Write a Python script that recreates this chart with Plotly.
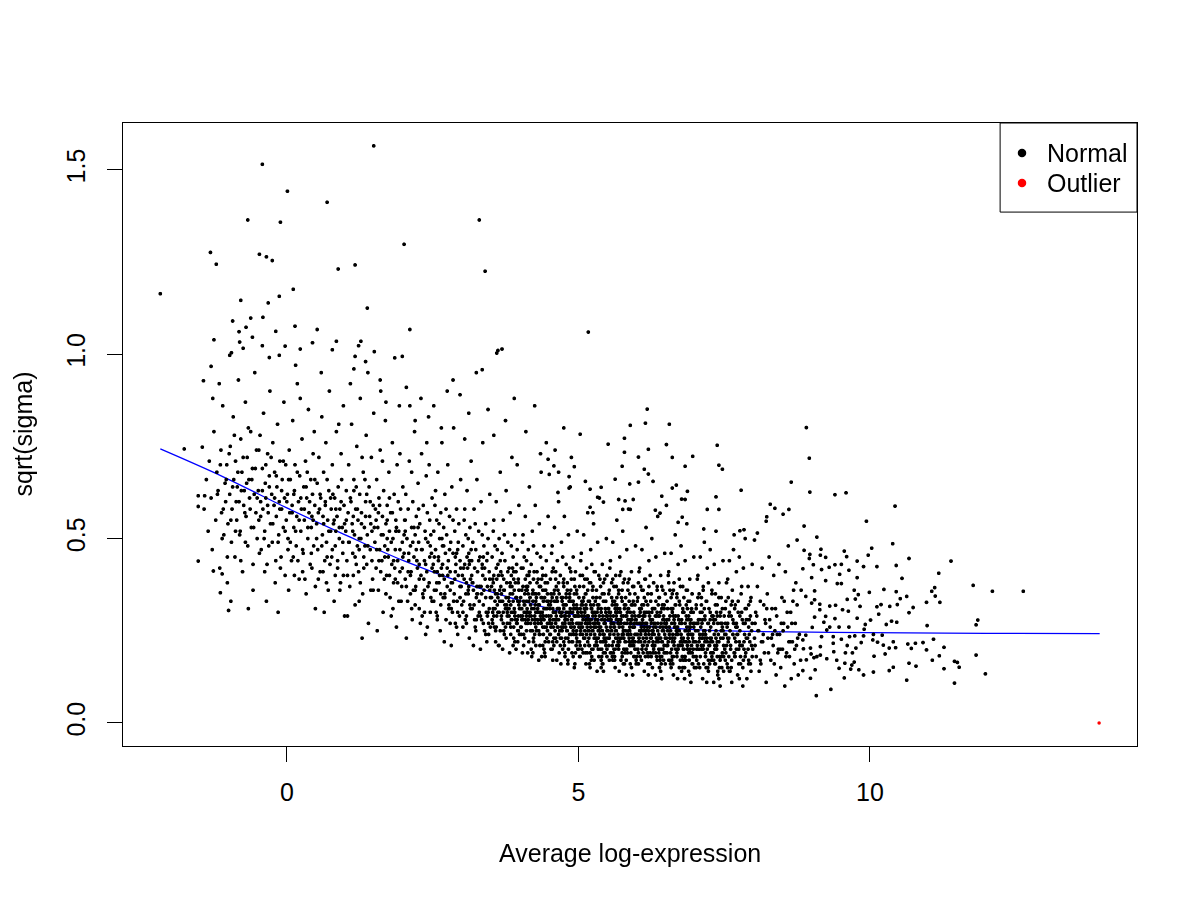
import plotly.graph_objects as go

# sparse points above the cloud, upper left
upper_left = [(1.49, 1.565), (-0.42, 1.515), (0.01, 1.442), (0.69, 1.412), (-0.67, 1.364), (-0.11, 1.358),
    (3.30, 1.364), (2.01, 1.298), (-1.31, 1.276), (-1.21, 1.244), (-0.47, 1.271), (-0.35, 1.264),
    (-0.25, 1.254), (0.88, 1.231), (1.17, 1.242), (3.40, 1.225), (-2.17, 1.164), (0.11, 1.176),
    (-0.13, 1.157), (-0.79, 1.146), (-0.32, 1.139), (1.38, 1.125), (-0.93, 1.090), (-0.62, 1.098),
    (-0.41, 1.100), (-0.70, 1.073), (0.14, 1.076), (0.52, 1.067), (2.11, 1.067), (-0.82, 1.061),
    (-0.19, 1.062), (-0.59, 1.046), (-1.25, 1.039), (-0.81, 1.033), (-0.42, 1.023), (-0.03, 1.022),
    (0.44, 1.031), (0.85, 1.035), (1.27, 1.035), (-0.75, 1.016), (0.23, 1.014), (0.78, 1.012),
    (1.23, 1.023), (1.50, 1.007), (1.98, 0.994), (3.60, 1.003), (3.69, 1.014), (3.35, 0.958),
    (-0.95, 1.004), (-0.98, 0.997), (-0.13, 0.997), (-0.30, 0.991), (1.17, 0.994), (-1.30, 0.967)]

# sparse points above the cloud, middle
upper_mid = [(5.17, 1.060), (6.18, 0.851), (5.89, 0.807), (6.15, 0.813), (6.56, 0.810), (5.03, 0.783),
    (5.79, 0.772), (5.51, 0.756), (6.51, 0.755), (7.38, 0.753), (8.91, 0.801), (6.20, 0.742),
    (5.79, 0.734), (6.03, 0.721), (6.61, 0.720), (6.96, 0.723), (8.96, 0.718), (7.41, 0.699),
    (7.47, 0.688), (6.83, 0.696), (5.75, 0.696), (6.13, 0.688), (6.20, 0.675), (5.63, 0.661),
    (6.28, 0.655), (5.88, 0.648), (6.03, 0.653), (8.65, 0.653), (7.79, 0.631), (8.97, 0.626),
    (9.40, 0.619), (9.59, 0.624), (10.43, 0.588), (9.94, 0.547), (8.29, 0.593), (8.37, 0.582),
    (8.51, 0.566), (8.61, 0.579), (8.23, 0.559), (8.22, 0.547), (8.87, 0.534), (8.07, 0.515),
    (9.09, 0.504), (8.75, 0.496), (10.39, 0.486), (10.03, 0.474), (7.36, 0.613), (7.21, 0.579),
    (7.41, 0.579), (6.43, 0.615), (6.51, 0.590), (6.77, 0.607), (6.83, 0.606), (6.87, 0.628),
    (6.61, 0.637), (6.68, 0.645), (5.39, 0.639), (5.20, 0.634), (5.12, 0.655), (4.93, 0.695),
    (4.84, 0.668), (4.48, 0.715), (4.58, 0.697), (4.66, 0.680), (4.50, 0.674), (4.84, 0.637),
    (4.65, 0.625), (5.33, 0.612), (5.43, 0.599), (5.69, 0.606), (5.80, 0.602), (5.94, 0.606),
    (5.76, 0.579), (5.89, 0.579), (5.20, 0.585), (5.25, 0.570), (6.32, 0.577), (6.40, 0.569),
    (6.78, 0.558), (6.71, 0.544), (7.15, 0.526), (7.67, 0.510), (7.77, 0.521), (7.84, 0.524),
    (8.02, 0.496),
    (1.60, 0.93), (1.85, 0.99), (2.05, 0.91), (2.30, 0.88), (2.52, 0.86), (2.75, 0.90), (2.85, 0.93),
    (2.97, 0.89), (3.12, 0.84), (3.25, 0.95), (3.45, 0.85), (3.62, 1.01), (3.75, 0.82), (3.90, 0.88),
    (4.10, 0.79), (4.25, 0.86), (4.45, 0.76), (4.60, 0.74), (4.75, 0.80), (4.88, 0.72), (1.35, 0.98),
    (1.15, 0.96), (2.20, 0.82), (2.65, 0.80), (3.55, 0.78), (4.35, 0.73), (3.05, 0.77), (3.95, 0.70),
    (1.70, 0.87), (2.40, 0.76)]

# left edge of the cloud
left_edge = [(-1.43, 0.928), (-1.76, 0.743), (-1.45, 0.748), (-1.52, 0.616), (-1.41, 0.616),
    (-1.52, 0.587), (-1.52, 0.439), (-1.26, 0.412), (-1.11, 0.404), (-1.14, 0.353), (-1.00, 0.305)]

# right tail, x > 8.8
right_tail = [(9.16, 0.471), (9.56, 0.466), (8.87, 0.468), (8.97, 0.457), (9.15, 0.455), (9.24, 0.449),
    (9.60, 0.451), (9.97, 0.455), (9.78, 0.439), (8.96, 0.446), (10.67, 0.446), (11.39, 0.439),
    (9.03, 0.429), (9.40, 0.429), (9.51, 0.430), (9.30, 0.422), (9.89, 0.424), (10.12, 0.424),
    (10.45, 0.427), (8.85, 0.418), (9.17, 0.416), (9.64, 0.414), (11.18, 0.406), (9.00, 0.394),
    (9.24, 0.386), (9.48, 0.403), (9.78, 0.394), (10.55, 0.392), (9.44, 0.378), (9.51, 0.378),
    (11.77, 0.373), (12.10, 0.357), (12.63, 0.357), (11.11, 0.367), (11.06, 0.357), (11.12, 0.344),
    (10.97, 0.327), (11.20, 0.327), (8.82, 0.360), (9.05, 0.358), (9.73, 0.360), (10.24, 0.362),
    (10.45, 0.356), (9.99, 0.354), (9.80, 0.348), (10.63, 0.343), (10.52, 0.337), (9.75, 0.336),
    (9.61, 0.335), (8.90, 0.343), (9.05, 0.334), (10.74, 0.313), (10.67, 0.299), (10.47, 0.321),
    (10.34, 0.316), (10.12, 0.315), (10.19, 0.321), (9.83, 0.316), (9.63, 0.303), (9.53, 0.307),
    (9.41, 0.319), (9.31, 0.317), (9.14, 0.322), (9.00, 0.325), (9.14, 0.307), (11.85, 0.279),
    (11.82, 0.266), (10.98, 0.264), (10.37, 0.276), (10.46, 0.273), (10.28, 0.267), (10.15, 0.295),
    (10.01, 0.279), (9.92, 0.267), (9.78, 0.284), (9.64, 0.260), (9.47, 0.260), (9.24, 0.289),
    (9.05, 0.287), (9.21, 0.273), (9.01, 0.259), (9.31, 0.260), (9.40, 0.283),
    (11.09, 0.227), (11.27, 0.205), (10.97, 0.198), (11.19, 0.182), (11.07, 0.170), (10.79, 0.154),
    (10.67, 0.162), (10.63, 0.116), (11.45, 0.108), (11.45, 0.167), (11.50, 0.164), (11.53, 0.151),
    (11.27, 0.147), (11.82, 0.184), (11.98, 0.133), (10.78, 0.216), (10.91, 0.218), (10.65, 0.214),
    (10.71, 0.202), (10.40, 0.220), (10.44, 0.204), (10.33, 0.203), (10.23, 0.211), (10.07, 0.181),
    (10.26, 0.187), (10.13, 0.219), (10.05, 0.225), (9.85, 0.218), (9.74, 0.236), (9.89, 0.236),
    (10.06, 0.240), (10.21, 0.238), (9.90, 0.254), (9.65, 0.234), (9.61, 0.210), (9.76, 0.203),
    (9.70, 0.190), (9.58, 0.190), (9.38, 0.193), (9.37, 0.216), (9.15, 0.207), (9.15, 0.184),
    (8.98, 0.203), (8.99, 0.187), (8.86, 0.201), (8.91, 0.171), (9.04, 0.177), (9.09, 0.180),
    (9.26, 0.174), (9.43, 0.170), (9.57, 0.162), (9.69, 0.157), (9.73, 0.165), (9.47, 0.148),
    (9.67, 0.146), (9.81, 0.144), (10.06, 0.138), (9.89, 0.130), (10.33, 0.142), (10.40, 0.151),
    (9.56, 0.122), (9.33, 0.091), (9.08, 0.074), (9.06, 0.144), (8.98, 0.121), (8.85, 0.142),
    (8.85, 0.225), (8.90, 0.238), (9.17, 0.234), (9.37, 0.234), (9.51, 0.227), (9.26, 0.252)]

# main body of the cloud, x from -1.5 to 2.5
body_low = [(-1.42, 0.58), (-1.38, 0.66), (-1.35, 0.52), (-1.33, 0.71), (-1.30, 0.61), (-1.28, 0.47),
    (-1.25, 0.79), (-1.22, 0.55), (-1.20, 0.68), (-1.18, 0.63), (-1.15, 0.42), (-1.13, 0.74),
    (-1.12, 0.57), (-1.10, 0.86), (-1.08, 0.51), (-1.06, 0.65), (-1.05, 0.60), (-1.03, 0.70),
    (-1.02, 0.38), (-1.01, 0.54), (-1.27, 0.88), (-1.16, 0.92),
    (-0.98, 0.62), (-0.97, 0.75), (-0.95, 0.49), (-0.94, 0.58), (-0.92, 0.83), (-0.91, 0.66),
    (-0.89, 0.45), (-0.88, 0.71), (-0.86, 0.55), (-0.85, 0.64), (-0.83, 0.93), (-0.82, 0.60),
    (-0.80, 0.52), (-0.79, 0.77), (-0.77, 0.68), (-0.76, 0.41), (-0.74, 0.59), (-0.73, 0.63),
    (-0.71, 0.87), (-0.70, 0.56), (-0.68, 0.72), (-0.67, 0.48), (-0.65, 0.66), (-0.64, 0.61),
    (-0.62, 0.79), (-0.61, 0.53), (-0.59, 0.69), (-0.58, 0.36), (-0.56, 0.62), (-0.55, 0.95),
    (-0.53, 0.57), (-0.52, 0.74), (-0.51, 0.50), (-0.96, 0.33), (-0.66, 0.31),
    (-0.49, 0.63), (-0.48, 0.55), (-0.46, 0.78), (-0.45, 0.60), (-0.44, 0.47), (-0.42, 0.69),
    (-0.41, 0.58), (-0.40, 0.84), (-0.38, 0.52), (-0.37, 0.65), (-0.36, 0.61), (-0.34, 0.43),
    (-0.33, 0.73), (-0.32, 0.57), (-0.30, 0.67), (-0.29, 0.90), (-0.28, 0.54), (-0.26, 0.62),
    (-0.25, 0.49), (-0.24, 0.76), (-0.22, 0.59), (-0.21, 0.68), (-0.20, 0.38), (-0.18, 0.56),
    (-0.17, 0.64), (-0.16, 0.81), (-0.14, 0.51), (-0.13, 0.60), (-0.12, 0.71), (-0.10, 0.45),
    (-0.09, 0.58), (-0.08, 0.66), (-0.06, 0.53), (-0.05, 0.87), (-0.04, 0.61), (-0.03, 0.40),
    (-0.02, 0.70), (-0.01, 0.55), (-0.35, 0.33), (-0.15, 0.30),
    (0.01, 0.62), (0.02, 0.50), (0.04, 0.74), (0.05, 0.57), (0.06, 0.66), (0.08, 0.44), (0.09, 0.59),
    (0.10, 0.82), (0.12, 0.53), (0.13, 0.63), (0.14, 0.70), (0.16, 0.48), (0.17, 0.56), (0.18, 0.92),
    (0.20, 0.60), (0.21, 0.39), (0.22, 0.67), (0.24, 0.52), (0.25, 0.58), (0.26, 0.77), (0.28, 0.46),
    (0.29, 0.64), (0.30, 0.55), (0.32, 0.71), (0.33, 0.35), (0.34, 0.61), (0.36, 0.50), (0.37, 0.85),
    (0.38, 0.57), (0.40, 0.43), (0.41, 0.66), (0.42, 0.53), (0.44, 0.62), (0.45, 0.73), (0.46, 0.48),
    (0.48, 0.59), (0.49, 0.31), (0.03, 0.36), (0.15, 0.97), (0.27, 0.41), (0.35, 0.68), (0.43, 0.56),
    (0.11, 0.45), (0.23, 0.88), (0.47, 0.79),
    (0.51, 0.54), (0.52, 0.65), (0.53, 0.47), (0.55, 0.72), (0.56, 0.58), (0.57, 0.41), (0.58, 0.61),
    (0.60, 0.83), (0.61, 0.51), (0.62, 0.56), (0.63, 0.68), (0.65, 0.44), (0.66, 0.60), (0.67, 0.76),
    (0.68, 0.49), (0.70, 0.55), (0.71, 0.36), (0.72, 0.63), (0.73, 0.90), (0.75, 0.52), (0.76, 0.58),
    (0.77, 0.45), (0.78, 0.70), (0.80, 0.54), (0.81, 0.33), (0.82, 0.61), (0.83, 0.48), (0.85, 0.79),
    (0.86, 0.56), (0.87, 0.42), (0.88, 0.64), (0.90, 0.50), (0.91, 0.58), (0.92, 0.38), (0.93, 0.73),
    (0.95, 0.53), (0.96, 0.46), (0.97, 0.86), (0.98, 0.59), (0.99, 0.29), (0.54, 0.39), (0.59, 0.95),
    (0.64, 0.30), (0.69, 0.66), (0.74, 0.43), (0.79, 0.62), (0.84, 0.52), (0.89, 0.81), (0.94, 0.66),
    (0.97, 0.40),
    (1.01, 0.52), (1.02, 0.63), (1.03, 0.44), (1.05, 0.57), (1.06, 0.70), (1.07, 0.49), (1.08, 0.37),
    (1.10, 0.60), (1.11, 0.81), (1.12, 0.54), (1.13, 0.46), (1.15, 0.66), (1.16, 0.51), (1.17, 0.32),
    (1.18, 0.58), (1.20, 0.75), (1.21, 0.48), (1.22, 0.55), (1.23, 0.41), (1.25, 0.62), (1.26, 0.88),
    (1.27, 0.50), (1.28, 0.57), (1.30, 0.35), (1.31, 0.68), (1.32, 0.45), (1.33, 0.53), (1.35, 0.60),
    (1.36, 0.78), (1.37, 0.43), (1.38, 0.51), (1.40, 0.27), (1.41, 0.64), (1.42, 0.56), (1.43, 0.47),
    (1.45, 0.72), (1.46, 0.52), (1.47, 0.39), (1.48, 0.59), (1.49, 0.84), (1.04, 0.29), (1.09, 0.92),
    (1.14, 0.40), (1.19, 0.64), (1.24, 0.33), (1.29, 0.72), (1.34, 0.48), (1.39, 0.95), (1.44, 0.36),
    (1.14, 0.56), (1.24, 0.47), (1.34, 0.66), (1.44, 0.54), (1.19, 0.43), (1.29, 0.23),
    (1.51, 0.49), (1.52, 0.58), (1.53, 0.42), (1.54, 0.66), (1.56, 0.53), (1.57, 0.36), (1.58, 0.61),
    (1.59, 0.47), (1.60, 0.74), (1.62, 0.51), (1.63, 0.44), (1.64, 0.56), (1.65, 0.30), (1.66, 0.63),
    (1.68, 0.48), (1.69, 0.82), (1.70, 0.54), (1.71, 0.40), (1.72, 0.59), (1.74, 0.45), (1.75, 0.68),
    (1.76, 0.52), (1.77, 0.34), (1.78, 0.57), (1.80, 0.43), (1.81, 0.76), (1.82, 0.50), (1.83, 0.38),
    (1.84, 0.62), (1.86, 0.47), (1.87, 0.55), (1.88, 0.26), (1.89, 0.70), (1.90, 0.44), (1.92, 0.52),
    (1.93, 0.86), (1.94, 0.41), (1.95, 0.58), (1.96, 0.33), (1.98, 0.49), (1.99, 0.64), (1.55, 0.25),
    (1.61, 0.90), (1.67, 0.39), (1.73, 0.47), (1.79, 0.29), (1.85, 0.42), (1.91, 0.60), (1.97, 0.37),
    (1.58, 0.44), (1.64, 0.71), (1.70, 0.35), (1.76, 0.61), (1.82, 0.31), (1.88, 0.53), (1.94, 0.73),
    (1.53, 0.55), (1.72, 0.50), (1.86, 0.39), (1.99, 0.45),
    (2.01, 0.46), (2.02, 0.55), (2.03, 0.39), (2.04, 0.62), (2.06, 0.50), (2.07, 0.33), (2.08, 0.58),
    (2.09, 0.44), (2.10, 0.71), (2.12, 0.48), (2.13, 0.41), (2.14, 0.53), (2.15, 0.28), (2.16, 0.60),
    (2.18, 0.45), (2.19, 0.79), (2.20, 0.51), (2.21, 0.37), (2.22, 0.56), (2.24, 0.42), (2.25, 0.65),
    (2.26, 0.49), (2.27, 0.31), (2.28, 0.54), (2.30, 0.40), (2.31, 0.73), (2.32, 0.47), (2.33, 0.35),
    (2.34, 0.59), (2.36, 0.44), (2.37, 0.52), (2.38, 0.24), (2.39, 0.67), (2.40, 0.41), (2.42, 0.49),
    (2.43, 0.83), (2.44, 0.38), (2.45, 0.55), (2.46, 0.30), (2.48, 0.46), (2.49, 0.61), (2.05, 0.23),
    (2.11, 0.86), (2.17, 0.36), (2.23, 0.44), (2.29, 0.27), (2.35, 0.39), (2.41, 0.57), (2.47, 0.34),
    (2.08, 0.41), (2.14, 0.68), (2.20, 0.32), (2.26, 0.58), (2.32, 0.29), (2.38, 0.50), (2.44, 0.70),
    (2.03, 0.52), (2.22, 0.47), (2.36, 0.36), (2.49, 0.42), (2.12, 0.35), (2.27, 0.43), (2.41, 0.26),
    (2.18, 0.53), (2.46, 0.48)]

# denser part of the left lobe, x from -1.2 to 3.5
body_low_fill = [(-1.19, 0.62), (-1.14, 0.70), (-1.09, 0.58), (-1.04, 0.66), (-0.99, 0.73), (-0.96, 0.55),
    (-0.93, 0.64), (-0.90, 0.78), (-0.87, 0.60), (-0.84, 0.68), (-0.81, 0.51), (-0.78, 0.63),
    (-0.75, 0.72), (-0.72, 0.57), (-0.69, 0.65), (-0.66, 0.80), (-0.63, 0.58), (-0.60, 0.66),
    (-0.57, 0.53), (-0.54, 0.69), (-0.51, 0.61), (-0.48, 0.74), (-0.45, 0.56), (-0.42, 0.63),
    (-0.39, 0.50), (-0.36, 0.70), (-0.33, 0.59), (-0.30, 0.64), (-0.27, 0.72), (-0.24, 0.54),
    (-0.21, 0.61), (-0.18, 0.67), (-0.15, 0.49), (-0.12, 0.58), (-0.09, 0.63), (-0.06, 0.71),
    (-0.03, 0.52), (0.00, 0.60), (0.03, 0.66), (0.06, 0.49), (0.09, 0.57), (0.12, 0.62), (0.15, 0.52),
    (0.18, 0.68), (0.21, 0.55), (0.24, 0.61), (0.27, 0.47), (0.30, 0.58), (0.33, 0.64), (0.36, 0.53),
    (0.39, 0.60), (0.42, 0.46), (0.45, 0.55), (0.48, 0.66), (0.51, 0.50), (0.54, 0.57), (0.57, 0.62),
    (0.60, 0.48), (0.63, 0.54), (0.66, 0.59), (0.69, 0.45), (0.72, 0.52), (0.75, 0.61), (0.78, 0.47),
    (0.81, 0.55), (0.84, 0.58), (0.87, 0.44), (0.90, 0.53), (0.93, 0.60), (0.96, 0.49), (0.99, 0.54),
    (-1.11, 0.50), (-1.02, 0.45), (-0.88, 0.52), (-0.79, 0.44), (-0.71, 0.49), (-0.58, 0.43),
    (-0.47, 0.46), (-0.38, 0.41), (-0.31, 0.48), (-0.19, 0.44), (-0.11, 0.42), (0.02, 0.47),
    (0.13, 0.40), (0.19, 0.44), (0.31, 0.39), (0.43, 0.42), (0.49, 0.37), (0.62, 0.41), (0.68, 0.38),
    (0.83, 0.40), (0.91, 0.36),
    (1.02, 0.55), (1.06, 0.49), (1.09, 0.61), (1.13, 0.52), (1.17, 0.45), (1.21, 0.58), (1.24, 0.50),
    (1.28, 0.54), (1.32, 0.42), (1.35, 0.56), (1.39, 0.48), (1.43, 0.60), (1.46, 0.44), (1.50, 0.53),
    (1.54, 0.47), (1.57, 0.57), (1.61, 0.41), (1.65, 0.51), (1.68, 0.45), (1.72, 0.55), (1.76, 0.40),
    (1.79, 0.49), (1.83, 0.44), (1.87, 0.52), (1.90, 0.38), (1.94, 0.47), (1.98, 0.42), (2.01, 0.51),
    (2.05, 0.37), (2.09, 0.46), (2.12, 0.40), (2.16, 0.49), (2.20, 0.36), (2.23, 0.44), (2.27, 0.39),
    (2.31, 0.47), (2.34, 0.34), (2.38, 0.43), (2.42, 0.37), (2.45, 0.45), (2.49, 0.33), (2.53, 0.41),
    (2.56, 0.36), (2.60, 0.44), (2.64, 0.32), (2.67, 0.40), (2.71, 0.35), (2.75, 0.42), (2.78, 0.31),
    (2.82, 0.38), (2.86, 0.33), (2.89, 0.41), (2.93, 0.30), (2.97, 0.37), (3.00, 0.32), (3.04, 0.39),
    (3.08, 0.29), (3.11, 0.36), (3.15, 0.31), (3.19, 0.38), (3.22, 0.28), (3.26, 0.35), (3.30, 0.30),
    (3.33, 0.37), (3.37, 0.27), (3.41, 0.34), (3.44, 0.29), (3.48, 0.36),
    (1.04, 0.40), (1.15, 0.63), (1.26, 0.38), (1.37, 0.62), (1.48, 0.36), (1.59, 0.59), (1.70, 0.35),
    (1.81, 0.57), (1.92, 0.33), (2.03, 0.55), (2.14, 0.31), (2.25, 0.53), (2.36, 0.30), (2.47, 0.51),
    (2.58, 0.28), (2.69, 0.48), (2.80, 0.27), (2.91, 0.46), (3.02, 0.26), (3.13, 0.44), (3.24, 0.25),
    (3.35, 0.42), (3.46, 0.24)]

body_mid = [(2.51, 0.43), (2.52, 0.52), (2.53, 0.36), (2.54, 0.59), (2.55, 0.47), (2.56, 0.30), (2.57, 0.55),
    (2.58, 0.41), (2.59, 0.68), (2.60, 0.45), (2.61, 0.38), (2.62, 0.50), (2.63, 0.25), (2.64, 0.57),
    (2.65, 0.42), (2.66, 0.76), (2.67, 0.48), (2.68, 0.34), (2.69, 0.53), (2.70, 0.39), (2.71, 0.62),
    (2.72, 0.46), (2.73, 0.28), (2.74, 0.51), (2.75, 0.37), (2.76, 0.70), (2.77, 0.44), (2.78, 0.32),
    (2.79, 0.56), (2.80, 0.41), (2.81, 0.49), (2.82, 0.21), (2.83, 0.64), (2.84, 0.38), (2.85, 0.46),
    (2.86, 0.80), (2.87, 0.35), (2.88, 0.52), (2.89, 0.27), (2.90, 0.43), (2.91, 0.58), (2.92, 0.33),
    (2.93, 0.47), (2.94, 0.40), (2.95, 0.54), (2.96, 0.29), (2.97, 0.44), (2.98, 0.66), (2.99, 0.37),
    (2.52, 0.33), (2.55, 0.63), (2.58, 0.29), (2.61, 0.54), (2.64, 0.35), (2.67, 0.43), (2.70, 0.22),
    (2.73, 0.58), (2.76, 0.40), (2.79, 0.47), (2.82, 0.31), (2.85, 0.55), (2.88, 0.39), (2.91, 0.26),
    (2.94, 0.49), (2.97, 0.34), (2.53, 0.45), (2.62, 0.40), (2.71, 0.34), (2.80, 0.36), (2.89, 0.45),
    (2.98, 0.42), (2.66, 0.50), (2.84, 0.30), (2.57, 0.38), (2.93, 0.24),
    (3.01, 0.40), (3.02, 0.48), (3.03, 0.33), (3.04, 0.55), (3.05, 0.43), (3.06, 0.28), (3.07, 0.51),
    (3.08, 0.38), (3.09, 0.63), (3.10, 0.42), (3.11, 0.35), (3.12, 0.46), (3.13, 0.23), (3.14, 0.53),
    (3.15, 0.39), (3.16, 0.71), (3.17, 0.44), (3.18, 0.31), (3.19, 0.49), (3.20, 0.36), (3.21, 0.58),
    (3.22, 0.42), (3.23, 0.26), (3.24, 0.47), (3.25, 0.34), (3.26, 0.66), (3.27, 0.41), (3.28, 0.29),
    (3.29, 0.52), (3.30, 0.37), (3.31, 0.45), (3.32, 0.20), (3.33, 0.60), (3.34, 0.35), (3.35, 0.43),
    (3.36, 0.76), (3.37, 0.32), (3.38, 0.48), (3.39, 0.25), (3.40, 0.39), (3.41, 0.54), (3.42, 0.30),
    (3.43, 0.44), (3.44, 0.37), (3.45, 0.50), (3.46, 0.27), (3.47, 0.41), (3.48, 0.62), (3.49, 0.34),
    (3.02, 0.30), (3.05, 0.58), (3.08, 0.27), (3.11, 0.50), (3.14, 0.32), (3.17, 0.40), (3.20, 0.21),
    (3.23, 0.54), (3.26, 0.37), (3.29, 0.44), (3.32, 0.29), (3.35, 0.51), (3.38, 0.36), (3.41, 0.24),
    (3.44, 0.46), (3.47, 0.31), (3.03, 0.42), (3.12, 0.37), (3.21, 0.32), (3.30, 0.33), (3.39, 0.42),
    (3.48, 0.39), (3.16, 0.47), (3.34, 0.28), (3.07, 0.35), (3.43, 0.22), (3.09, 0.45), (3.18, 0.38),
    (3.27, 0.35), (3.36, 0.40), (3.45, 0.30), (3.13, 0.43), (3.25, 0.28), (3.37, 0.45), (3.49, 0.26),
    (3.51, 0.37), (3.52, 0.45), (3.53, 0.30), (3.54, 0.52), (3.55, 0.40), (3.56, 0.26), (3.57, 0.48),
    (3.58, 0.35), (3.59, 0.60), (3.60, 0.39), (3.61, 0.32), (3.62, 0.43), (3.63, 0.21), (3.64, 0.50),
    (3.65, 0.36), (3.66, 0.68), (3.67, 0.41), (3.68, 0.29), (3.69, 0.46), (3.70, 0.33), (3.71, 0.55),
    (3.72, 0.39), (3.73, 0.24), (3.74, 0.44), (3.75, 0.31), (3.76, 0.63), (3.77, 0.38), (3.78, 0.27),
    (3.79, 0.49), (3.80, 0.34), (3.81, 0.42), (3.82, 0.19), (3.83, 0.57), (3.84, 0.32), (3.85, 0.40),
    (3.86, 0.72), (3.87, 0.30), (3.88, 0.45), (3.89, 0.23), (3.90, 0.36), (3.91, 0.51), (3.92, 0.28),
    (3.93, 0.41), (3.94, 0.34), (3.95, 0.47), (3.96, 0.25), (3.97, 0.38), (3.98, 0.59), (3.99, 0.31),
    (3.52, 0.28), (3.55, 0.55), (3.58, 0.25), (3.61, 0.47), (3.64, 0.30), (3.67, 0.37), (3.70, 0.20),
    (3.73, 0.51), (3.76, 0.34), (3.79, 0.41), (3.82, 0.27), (3.85, 0.48), (3.88, 0.33), (3.91, 0.22),
    (3.94, 0.43), (3.97, 0.29), (3.53, 0.39), (3.62, 0.34), (3.71, 0.30), (3.80, 0.31), (3.89, 0.39),
    (3.98, 0.36), (3.66, 0.44), (3.84, 0.26), (3.57, 0.33), (3.93, 0.20), (3.59, 0.42), (3.68, 0.35),
    (3.77, 0.32), (3.86, 0.37), (3.95, 0.28), (3.63, 0.40), (3.75, 0.26), (3.87, 0.42), (3.99, 0.24),
    (3.54, 0.31), (3.60, 0.29), (3.65, 0.33), (3.72, 0.36), (3.78, 0.30), (3.83, 0.35), (3.90, 0.31),
    (3.96, 0.33), (3.56, 0.36), (3.81, 0.29),
    (4.01, 0.34), (4.02, 0.42), (4.03, 0.28), (4.04, 0.49), (4.05, 0.37), (4.06, 0.24), (4.07, 0.45),
    (4.08, 0.32), (4.09, 0.56), (4.10, 0.36), (4.11, 0.29), (4.12, 0.40), (4.13, 0.19), (4.14, 0.47),
    (4.15, 0.33), (4.16, 0.64), (4.17, 0.38), (4.18, 0.27), (4.19, 0.43), (4.20, 0.31), (4.21, 0.52),
    (4.22, 0.36), (4.23, 0.22), (4.24, 0.41), (4.25, 0.29), (4.26, 0.59), (4.27, 0.35), (4.28, 0.25),
    (4.29, 0.46), (4.30, 0.31), (4.31, 0.39), (4.32, 0.17), (4.33, 0.54), (4.34, 0.30), (4.35, 0.37),
    (4.36, 0.68), (4.37, 0.28), (4.38, 0.42), (4.39, 0.21), (4.40, 0.33), (4.41, 0.48), (4.42, 0.26),
    (4.43, 0.38), (4.44, 0.31), (4.45, 0.44), (4.46, 0.23), (4.47, 0.35), (4.48, 0.56), (4.49, 0.29),
    (4.02, 0.26), (4.05, 0.51), (4.08, 0.23), (4.11, 0.44), (4.14, 0.28), (4.17, 0.34), (4.20, 0.18),
    (4.23, 0.48), (4.26, 0.32), (4.29, 0.38), (4.32, 0.25), (4.35, 0.45), (4.38, 0.30), (4.41, 0.20),
    (4.44, 0.40), (4.47, 0.27), (4.03, 0.36), (4.12, 0.31), (4.21, 0.28), (4.30, 0.28), (4.39, 0.36),
    (4.48, 0.33), (4.16, 0.41), (4.34, 0.24), (4.07, 0.30), (4.43, 0.18), (4.09, 0.39), (4.18, 0.32),
    (4.27, 0.30), (4.36, 0.34), (4.45, 0.26), (4.13, 0.37), (4.25, 0.24), (4.37, 0.39), (4.49, 0.22),
    (4.04, 0.29), (4.10, 0.27), (4.15, 0.30), (4.22, 0.33), (4.28, 0.28), (4.33, 0.32), (4.40, 0.29),
    (4.46, 0.31), (4.06, 0.33), (4.31, 0.27), (4.19, 0.25), (4.24, 0.35), (4.42, 0.34), (4.47, 0.25),
    (4.01, 0.31), (4.14, 0.35), (4.27, 0.21), (4.40, 0.24), (4.11, 0.25), (4.35, 0.29)]

body_core = [(4.51, 0.31), (4.52, 0.39), (4.53, 0.26), (4.54, 0.46), (4.55, 0.34), (4.56, 0.22), (4.57, 0.42),
    (4.58, 0.30), (4.59, 0.53), (4.60, 0.33), (4.61, 0.27), (4.62, 0.37), (4.63, 0.17), (4.64, 0.44),
    (4.65, 0.31), (4.66, 0.60), (4.67, 0.35), (4.68, 0.25), (4.69, 0.40), (4.70, 0.29), (4.71, 0.49),
    (4.72, 0.33), (4.73, 0.20), (4.74, 0.38), (4.75, 0.27), (4.76, 0.56), (4.77, 0.32), (4.78, 0.23),
    (4.79, 0.43), (4.80, 0.28), (4.81, 0.36), (4.82, 0.16), (4.83, 0.51), (4.84, 0.27), (4.85, 0.34),
    (4.86, 0.64), (4.87, 0.26), (4.88, 0.39), (4.89, 0.19), (4.90, 0.30), (4.91, 0.45), (4.92, 0.24),
    (4.93, 0.35), (4.94, 0.29), (4.95, 0.41), (4.96, 0.21), (4.97, 0.32), (4.98, 0.52), (4.99, 0.27),
    (4.52, 0.24), (4.55, 0.48), (4.58, 0.21), (4.61, 0.41), (4.64, 0.26), (4.67, 0.31), (4.70, 0.16),
    (4.73, 0.45), (4.76, 0.29), (4.79, 0.35), (4.82, 0.23), (4.85, 0.42), (4.88, 0.28), (4.91, 0.18),
    (4.94, 0.37), (4.97, 0.25), (4.53, 0.33), (4.62, 0.29), (4.71, 0.26), (4.80, 0.25), (4.89, 0.33),
    (4.98, 0.31), (4.66, 0.38), (4.84, 0.22), (4.57, 0.28), (4.93, 0.15), (4.59, 0.36), (4.68, 0.30),
    (4.77, 0.28), (4.86, 0.31), (4.95, 0.24), (4.63, 0.34), (4.75, 0.22), (4.87, 0.36), (4.99, 0.20),
    (4.54, 0.27), (4.60, 0.25), (4.65, 0.28), (4.72, 0.30), (4.78, 0.26), (4.83, 0.30), (4.90, 0.27),
    (4.96, 0.29), (4.56, 0.31), (4.81, 0.25), (4.69, 0.23), (4.74, 0.32), (4.92, 0.31), (4.97, 0.23),
    (4.51, 0.28), (4.64, 0.33), (4.77, 0.19), (4.90, 0.22), (4.61, 0.23), (4.85, 0.27), (4.53, 0.20),
    (4.66, 0.24), (4.79, 0.30), (4.93, 0.26), (4.58, 0.35), (4.71, 0.34), (4.84, 0.33), (4.97, 0.35),
    (4.75, 0.39), (4.88, 0.24),
    (5.01, 0.29), (5.02, 0.37), (5.03, 0.24), (5.04, 0.44), (5.05, 0.32), (5.06, 0.20), (5.07, 0.40),
    (5.08, 0.28), (5.09, 0.51), (5.10, 0.31), (5.11, 0.25), (5.12, 0.35), (5.13, 0.16), (5.14, 0.42),
    (5.15, 0.29), (5.16, 0.57), (5.17, 0.33), (5.18, 0.23), (5.19, 0.38), (5.20, 0.27), (5.21, 0.47),
    (5.22, 0.31), (5.23, 0.18), (5.24, 0.36), (5.25, 0.25), (5.26, 0.54), (5.27, 0.30), (5.28, 0.21),
    (5.29, 0.41), (5.30, 0.26), (5.31, 0.34), (5.32, 0.14), (5.33, 0.49), (5.34, 0.25), (5.35, 0.32),
    (5.36, 0.61), (5.37, 0.24), (5.38, 0.37), (5.39, 0.17), (5.40, 0.28), (5.41, 0.43), (5.42, 0.22),
    (5.43, 0.33), (5.44, 0.27), (5.45, 0.39), (5.46, 0.19), (5.47, 0.30), (5.48, 0.50), (5.49, 0.25),
    (5.02, 0.22), (5.05, 0.46), (5.08, 0.19), (5.11, 0.39), (5.14, 0.24), (5.17, 0.29), (5.20, 0.15),
    (5.23, 0.43), (5.26, 0.27), (5.29, 0.33), (5.32, 0.21), (5.35, 0.40), (5.38, 0.26), (5.41, 0.16),
    (5.44, 0.35), (5.47, 0.23), (5.03, 0.31), (5.12, 0.27), (5.21, 0.24), (5.30, 0.23), (5.39, 0.31),
    (5.48, 0.29), (5.16, 0.36), (5.34, 0.20), (5.07, 0.26), (5.43, 0.14), (5.09, 0.34), (5.18, 0.28),
    (5.27, 0.26), (5.36, 0.29), (5.45, 0.22), (5.13, 0.32), (5.25, 0.20), (5.37, 0.34), (5.49, 0.18),
    (5.04, 0.25), (5.10, 0.23), (5.15, 0.26), (5.22, 0.28), (5.28, 0.24), (5.33, 0.28), (5.40, 0.25),
    (5.46, 0.27), (5.06, 0.29), (5.31, 0.23), (5.19, 0.21), (5.24, 0.30), (5.42, 0.29), (5.47, 0.21),
    (5.01, 0.26), (5.14, 0.31), (5.27, 0.17), (5.40, 0.20), (5.11, 0.21), (5.35, 0.25), (5.03, 0.18),
    (5.16, 0.22), (5.29, 0.28), (5.43, 0.24), (5.08, 0.33), (5.21, 0.32), (5.34, 0.31), (5.47, 0.33),
    (5.25, 0.37), (5.38, 0.22), (5.05, 0.27), (5.18, 0.25), (5.31, 0.30), (5.44, 0.23), (5.12, 0.19),
    (5.36, 0.26),
    (5.51, 0.28), (5.52, 0.35), (5.53, 0.23), (5.54, 0.42), (5.55, 0.30), (5.56, 0.19), (5.57, 0.38),
    (5.58, 0.27), (5.59, 0.49), (5.60, 0.29), (5.61, 0.24), (5.62, 0.33), (5.63, 0.15), (5.64, 0.40),
    (5.65, 0.28), (5.66, 0.55), (5.67, 0.31), (5.68, 0.22), (5.69, 0.36), (5.70, 0.26), (5.71, 0.45),
    (5.72, 0.30), (5.73, 0.17), (5.74, 0.34), (5.75, 0.24), (5.76, 0.52), (5.77, 0.29), (5.78, 0.20),
    (5.79, 0.39), (5.80, 0.25), (5.81, 0.32), (5.82, 0.13), (5.83, 0.47), (5.84, 0.24), (5.85, 0.31),
    (5.86, 0.58), (5.87, 0.23), (5.88, 0.35), (5.89, 0.16), (5.90, 0.27), (5.91, 0.41), (5.92, 0.21),
    (5.93, 0.32), (5.94, 0.26), (5.95, 0.37), (5.96, 0.18), (5.97, 0.29), (5.98, 0.48), (5.99, 0.24),
    (5.52, 0.21), (5.55, 0.44), (5.58, 0.18), (5.61, 0.37), (5.64, 0.23), (5.67, 0.28), (5.70, 0.14),
    (5.73, 0.41), (5.76, 0.26), (5.79, 0.32), (5.82, 0.20), (5.85, 0.38), (5.88, 0.25), (5.91, 0.15),
    (5.94, 0.33), (5.97, 0.22), (5.53, 0.30), (5.62, 0.26), (5.71, 0.23), (5.80, 0.22), (5.89, 0.30),
    (5.98, 0.28), (5.66, 0.34), (5.84, 0.19), (5.57, 0.25), (5.93, 0.13), (5.59, 0.33), (5.68, 0.27),
    (5.77, 0.25), (5.86, 0.28), (5.95, 0.21), (5.63, 0.31), (5.75, 0.19), (5.87, 0.33), (5.99, 0.17),
    (5.54, 0.24), (5.60, 0.22), (5.65, 0.25), (5.72, 0.27), (5.78, 0.23), (5.83, 0.27), (5.90, 0.24),
    (5.96, 0.26), (5.56, 0.28), (5.81, 0.22), (5.69, 0.20), (5.74, 0.29), (5.92, 0.28), (5.97, 0.20),
    (5.51, 0.25), (5.64, 0.30), (5.77, 0.16), (5.90, 0.19), (5.61, 0.20), (5.85, 0.24), (5.53, 0.17),
    (5.66, 0.21), (5.79, 0.27), (5.93, 0.23), (5.58, 0.32), (5.71, 0.31), (5.84, 0.30), (5.97, 0.32),
    (5.75, 0.36), (5.88, 0.21), (5.55, 0.26), (5.68, 0.24), (5.81, 0.29), (5.94, 0.22), (5.62, 0.18),
    (5.86, 0.25)]

# extra points where the reference cloud is solid black, x from 3.5 to 8.8
core_fill = [(3.53, 0.27), (3.57, 0.31), (3.51, 0.34), (3.58, 0.22), (3.55, 0.29), (3.54, 0.38), (3.59, 0.26),
    (3.62, 0.30), (3.66, 0.25), (3.61, 0.35), (3.68, 0.28), (3.64, 0.21), (3.67, 0.33), (3.69, 0.40),
    (3.71, 0.27), (3.74, 0.32), (3.76, 0.23), (3.73, 0.36), (3.78, 0.29), (3.72, 0.25), (3.79, 0.31),
    (3.81, 0.33), (3.84, 0.24), (3.86, 0.28), (3.83, 0.37), (3.88, 0.21), (3.85, 0.30), (3.89, 0.26),
    (3.91, 0.29), (3.93, 0.34), (3.96, 0.22), (3.94, 0.27), (3.98, 0.32), (3.92, 0.38), (3.97, 0.25),
    (4.01, 0.26), (4.03, 0.31), (4.06, 0.21), (4.05, 0.28), (4.08, 0.35), (4.02, 0.24), (4.09, 0.30),
    (4.04, 0.19), (4.11, 0.33), (4.13, 0.27), (4.15, 0.22), (4.17, 0.30), (4.12, 0.36), (4.18, 0.25),
    (4.16, 0.29), (4.19, 0.20), (4.21, 0.25), (4.24, 0.31), (4.22, 0.19), (4.26, 0.28), (4.28, 0.34),
    (4.23, 0.23), (4.27, 0.26), (4.29, 0.30), (4.31, 0.32), (4.33, 0.24), (4.36, 0.27), (4.34, 0.21),
    (4.38, 0.29), (4.32, 0.35), (4.37, 0.18), (4.39, 0.26), (4.41, 0.28), (4.43, 0.22), (4.45, 0.31),
    (4.47, 0.25), (4.42, 0.19), (4.46, 0.33), (4.48, 0.27), (4.44, 0.36), (4.51, 0.24), (4.53, 0.29),
    (4.55, 0.20), (4.57, 0.26), (4.52, 0.32), (4.58, 0.23), (4.56, 0.17), (4.59, 0.28), (4.54, 0.35),
    (4.61, 0.30), (4.63, 0.22), (4.65, 0.26), (4.67, 0.19), (4.62, 0.33), (4.68, 0.25), (4.66, 0.28),
    (4.69, 0.21), (4.64, 0.31), (4.71, 0.23), (4.73, 0.27), (4.75, 0.31), (4.77, 0.18), (4.72, 0.25),
    (4.78, 0.29), (4.76, 0.21), (4.79, 0.34), (4.74, 0.26), (4.81, 0.28), (4.83, 0.20), (4.85, 0.24),
    (4.87, 0.30), (4.82, 0.17), (4.88, 0.26), (4.86, 0.33), (4.89, 0.22), (4.84, 0.29), (4.91, 0.25),
    (4.93, 0.29), (4.95, 0.19), (4.97, 0.27), (4.92, 0.32), (4.98, 0.22), (4.96, 0.24), (4.99, 0.30),
    (4.94, 0.16), (5.01, 0.27), (5.03, 0.21), (5.05, 0.30), (5.07, 0.24), (5.02, 0.18), (5.08, 0.28),
    (5.06, 0.33), (5.09, 0.23), (5.04, 0.26), (5.00, 0.20), (5.11, 0.23), (5.13, 0.28), (5.15, 0.19),
    (5.17, 0.25), (5.12, 0.31), (5.18, 0.21), (5.16, 0.27), (5.19, 0.16), (5.14, 0.24), (5.10, 0.29),
    (5.21, 0.26), (5.23, 0.20), (5.25, 0.29), (5.27, 0.23), (5.22, 0.17), (5.28, 0.27), (5.26, 0.32),
    (5.29, 0.21), (5.24, 0.25), (5.20, 0.19), (5.31, 0.22), (5.33, 0.27), (5.35, 0.18), (5.37, 0.24),
    (5.32, 0.30), (5.38, 0.20), (5.36, 0.26), (5.39, 0.15), (5.34, 0.23), (5.30, 0.28), (5.41, 0.25),
    (5.43, 0.19), (5.45, 0.28), (5.47, 0.22), (5.42, 0.16), (5.48, 0.26), (5.46, 0.31), (5.49, 0.20),
    (5.44, 0.24), (5.40, 0.18), (5.51, 0.23), (5.53, 0.28), (5.55, 0.19), (5.57, 0.25), (5.52, 0.31),
    (5.58, 0.21), (5.56, 0.27), (5.59, 0.17), (5.54, 0.24), (5.50, 0.29), (5.61, 0.26), (5.63, 0.20),
    (5.65, 0.29), (5.67, 0.23), (5.62, 0.17), (5.68, 0.27), (5.66, 0.32), (5.69, 0.21), (5.64, 0.25),
    (5.60, 0.19), (5.71, 0.22), (5.73, 0.27), (5.75, 0.18), (5.77, 0.24), (5.72, 0.30), (5.78, 0.20),
    (5.76, 0.26), (5.79, 0.16), (5.74, 0.23), (5.70, 0.28), (5.81, 0.25), (5.83, 0.20), (5.85, 0.28),
    (5.87, 0.22), (5.82, 0.17), (5.88, 0.26), (5.86, 0.31), (5.89, 0.21), (5.84, 0.24), (5.80, 0.19),
    (5.91, 0.22), (5.93, 0.26), (5.95, 0.18), (5.97, 0.24), (5.92, 0.29), (5.98, 0.20), (5.96, 0.27),
    (5.99, 0.16), (5.94, 0.23), (5.90, 0.28), (6.01, 0.24), (6.03, 0.19), (6.05, 0.27), (6.07, 0.22),
    (6.02, 0.16), (6.08, 0.25), (6.06, 0.30), (6.09, 0.20), (6.04, 0.23), (6.00, 0.18), (6.11, 0.21),
    (6.13, 0.26), (6.15, 0.18), (6.17, 0.23), (6.12, 0.29), (6.18, 0.19), (6.16, 0.25), (6.19, 0.16),
    (6.14, 0.22), (6.10, 0.27), (6.21, 0.24), (6.23, 0.19), (6.25, 0.27), (6.27, 0.21), (6.22, 0.16),
    (6.28, 0.25), (6.26, 0.30), (6.29, 0.20), (6.24, 0.23), (6.20, 0.18), (6.31, 0.21), (6.33, 0.26),
    (6.35, 0.17), (6.37, 0.23), (6.32, 0.29), (6.38, 0.19), (6.36, 0.25), (6.39, 0.15), (6.34, 0.22),
    (6.30, 0.27), (6.41, 0.23), (6.43, 0.18), (6.45, 0.26), (6.47, 0.21), (6.42, 0.16), (6.48, 0.24),
    (6.46, 0.29), (6.49, 0.19), (6.44, 0.22), (6.40, 0.17), (6.51, 0.21), (6.53, 0.25), (6.55, 0.17),
    (6.57, 0.23), (6.52, 0.28), (6.58, 0.19), (6.56, 0.24), (6.59, 0.15), (6.54, 0.22), (6.50, 0.26),
    (6.61, 0.23), (6.63, 0.18), (6.65, 0.26), (6.67, 0.20), (6.62, 0.16), (6.68, 0.24), (6.66, 0.29),
    (6.69, 0.19), (6.64, 0.22), (6.60, 0.17), (6.71, 0.20), (6.73, 0.25), (6.75, 0.17), (6.77, 0.22),
    (6.72, 0.28), (6.78, 0.18), (6.76, 0.24), (6.79, 0.15), (6.74, 0.21), (6.70, 0.26), (6.81, 0.22),
    (6.83, 0.18), (6.85, 0.25), (6.87, 0.20), (6.82, 0.15), (6.88, 0.24), (6.86, 0.28), (6.89, 0.19),
    (6.84, 0.22), (6.80, 0.17), (6.91, 0.20), (6.93, 0.24), (6.95, 0.16), (6.97, 0.22), (6.92, 0.27),
    (6.98, 0.18), (6.96, 0.23), (6.99, 0.15), (6.94, 0.21), (6.90, 0.26), (7.01, 0.22), (7.03, 0.17),
    (7.05, 0.25), (7.07, 0.20), (7.02, 0.15), (7.08, 0.23), (7.06, 0.28), (7.09, 0.18), (7.04, 0.21),
    (7.11, 0.20), (7.13, 0.24), (7.15, 0.16), (7.17, 0.22), (7.12, 0.27), (7.18, 0.18), (7.16, 0.23),
    (7.19, 0.15), (7.14, 0.21), (7.21, 0.22), (7.23, 0.17), (7.25, 0.25), (7.27, 0.19), (7.22, 0.15),
    (7.28, 0.23), (7.26, 0.28), (7.29, 0.18), (7.24, 0.21), (7.31, 0.19), (7.33, 0.24), (7.35, 0.16),
    (7.37, 0.21), (7.32, 0.27), (7.38, 0.18), (7.36, 0.23), (7.39, 0.14), (7.34, 0.20), (7.41, 0.22),
    (7.43, 0.17), (7.45, 0.25), (7.47, 0.19), (7.42, 0.15), (7.48, 0.23), (7.46, 0.27), (7.49, 0.18),
    (7.51, 0.20), (7.53, 0.24), (7.55, 0.16), (7.57, 0.22), (7.52, 0.27), (7.58, 0.18), (7.56, 0.23),
    (7.59, 0.14), (7.61, 0.21), (7.63, 0.17), (7.65, 0.24), (7.67, 0.19), (7.62, 0.15), (7.68, 0.23),
    (7.66, 0.27), (7.69, 0.18), (7.71, 0.20), (7.73, 0.24), (7.75, 0.16), (7.77, 0.21), (7.72, 0.26),
    (7.78, 0.18), (7.76, 0.22), (7.81, 0.21), (7.83, 0.17), (7.85, 0.24), (7.87, 0.19), (7.82, 0.15),
    (7.88, 0.23), (7.86, 0.27), (7.91, 0.20), (7.93, 0.24), (7.95, 0.16), (7.97, 0.21), (7.92, 0.26),
    (7.98, 0.18), (8.03, 0.21), (8.08, 0.25), (8.12, 0.17), (8.16, 0.22), (8.21, 0.27), (8.26, 0.19),
    (8.31, 0.23), (8.36, 0.16), (8.41, 0.24), (8.46, 0.20), (8.51, 0.25), (8.56, 0.18), (8.61, 0.22),
    (8.66, 0.27), (8.71, 0.20), (8.76, 0.23), (8.81, 0.17), (8.06, 0.29), (8.18, 0.32), (8.28, 0.28),
    (8.38, 0.31), (8.48, 0.27), (8.58, 0.30), (8.68, 0.33)]

# upper half of the solid core, above the trend line
core_upper = [(3.81, 0.31), (3.83, 0.38), (3.85, 0.28), (3.87, 0.35), (3.89, 0.41), (3.91, 0.30), (3.93, 0.34),
    (3.95, 0.27), (3.97, 0.39), (3.99, 0.33), (4.01, 0.29), (4.03, 0.36), (4.05, 0.42), (4.07, 0.32),
    (4.09, 0.28), (4.11, 0.37), (4.13, 0.30), (4.15, 0.40), (4.17, 0.34), (4.19, 0.29), (4.21, 0.35),
    (4.23, 0.39), (4.25, 0.27), (4.27, 0.33), (4.29, 0.41), (4.31, 0.30), (4.33, 0.37), (4.35, 0.28),
    (4.37, 0.34), (4.39, 0.40), (4.41, 0.31), (4.43, 0.36), (4.45, 0.29), (4.47, 0.38), (4.49, 0.32),
    (4.51, 0.27), (4.53, 0.35), (4.55, 0.41), (4.57, 0.30), (4.59, 0.33), (4.61, 0.39), (4.63, 0.28),
    (4.65, 0.36), (4.67, 0.31), (4.69, 0.40), (4.71, 0.29), (4.73, 0.34), (4.75, 0.37), (4.77, 0.27),
    (4.79, 0.32), (4.81, 0.38), (4.83, 0.30), (4.85, 0.35), (4.87, 0.41), (4.89, 0.28), (4.91, 0.33),
    (4.93, 0.39), (4.95, 0.31), (4.97, 0.36), (4.99, 0.29), (5.01, 0.34), (5.03, 0.40), (5.05, 0.27),
    (5.07, 0.32), (5.09, 0.37), (5.11, 0.30), (5.13, 0.35), (5.15, 0.39), (5.17, 0.28), (5.19, 0.33),
    (5.21, 0.38), (5.23, 0.31), (5.25, 0.34), (5.27, 0.41), (5.29, 0.29), (5.31, 0.36), (5.33, 0.32),
    (5.35, 0.27), (5.37, 0.39), (5.39, 0.30), (5.41, 0.35), (5.43, 0.38), (5.45, 0.28), (5.47, 0.33),
    (5.49, 0.40), (5.51, 0.31), (5.53, 0.36), (5.55, 0.29), (5.57, 0.34), (5.59, 0.39), (5.61, 0.27),
    (5.63, 0.32), (5.65, 0.37), (5.67, 0.30), (5.69, 0.35), (5.71, 0.40), (5.73, 0.28), (5.75, 0.33),
    (5.77, 0.38), (5.79, 0.31), (5.81, 0.34), (5.83, 0.29), (5.85, 0.36), (5.87, 0.39), (5.89, 0.27),
    (5.91, 0.32), (5.93, 0.37), (5.95, 0.30), (5.97, 0.35), (5.99, 0.28), (6.01, 0.33), (6.03, 0.38),
    (6.05, 0.31), (6.07, 0.27), (6.09, 0.36), (6.11, 0.29), (6.13, 0.34), (6.15, 0.39), (6.17, 0.30),
    (6.19, 0.32), (6.21, 0.37), (6.23, 0.28), (6.25, 0.35), (6.27, 0.31), (6.29, 0.38), (6.31, 0.27),
    (6.33, 0.33), (6.35, 0.36), (6.37, 0.29), (6.39, 0.34), (6.41, 0.30), (6.43, 0.37), (6.45, 0.28),
    (6.47, 0.32), (6.49, 0.35), (6.51, 0.27), (6.53, 0.31), (6.55, 0.38), (6.57, 0.29), (6.59, 0.34),
    (6.61, 0.30), (6.63, 0.36), (6.65, 0.27), (6.67, 0.32), (6.69, 0.35), (6.71, 0.29), (6.73, 0.33),
    (6.75, 0.37), (6.77, 0.28), (6.79, 0.31), (6.81, 0.34), (6.83, 0.27), (6.85, 0.32), (6.87, 0.36),
    (6.89, 0.29), (6.91, 0.33), (6.93, 0.28), (6.95, 0.35), (6.97, 0.30), (6.99, 0.27), (7.02, 0.31),
    (7.05, 0.34), (7.08, 0.28), (7.11, 0.32), (7.14, 0.36), (7.17, 0.29), (7.20, 0.33), (7.23, 0.27),
    (7.26, 0.30), (7.29, 0.35), (7.32, 0.28), (7.35, 0.32), (7.38, 0.29), (7.41, 0.34), (7.44, 0.27),
    (7.47, 0.31), (7.50, 0.29), (7.53, 0.33), (7.56, 0.27), (7.59, 0.30), (7.62, 0.32), (7.65, 0.28),
    (7.68, 0.31), (7.71, 0.27), (7.74, 0.33), (7.77, 0.29), (7.80, 0.30), (7.83, 0.27), (7.86, 0.31),
    (7.89, 0.28), (7.92, 0.32), (7.95, 0.29), (7.98, 0.27)]

body_high = [(6.01, 0.27), (6.02, 0.34), (6.03, 0.22), (6.04, 0.41), (6.05, 0.29), (6.06, 0.18), (6.07, 0.37),
    (6.08, 0.26), (6.09, 0.47), (6.10, 0.28), (6.11, 0.23), (6.12, 0.32), (6.13, 0.14), (6.14, 0.39),
    (6.15, 0.27), (6.16, 0.53), (6.17, 0.30), (6.18, 0.21), (6.19, 0.35), (6.20, 0.25), (6.21, 0.44),
    (6.22, 0.29), (6.23, 0.16), (6.24, 0.33), (6.25, 0.23), (6.26, 0.50), (6.27, 0.28), (6.28, 0.19),
    (6.29, 0.38), (6.30, 0.24), (6.31, 0.31), (6.32, 0.13), (6.33, 0.45), (6.34, 0.23), (6.35, 0.30),
    (6.36, 0.56), (6.37, 0.22), (6.38, 0.34), (6.39, 0.15), (6.40, 0.26), (6.41, 0.40), (6.42, 0.20),
    (6.43, 0.31), (6.44, 0.25), (6.45, 0.36), (6.46, 0.17), (6.47, 0.28), (6.48, 0.46), (6.49, 0.23),
    (6.02, 0.20), (6.05, 0.42), (6.08, 0.17), (6.11, 0.36), (6.14, 0.22), (6.17, 0.27), (6.20, 0.13),
    (6.23, 0.40), (6.26, 0.25), (6.29, 0.31), (6.32, 0.19), (6.35, 0.37), (6.38, 0.24), (6.41, 0.14),
    (6.44, 0.32), (6.47, 0.21), (6.03, 0.29), (6.12, 0.25), (6.21, 0.22), (6.30, 0.21), (6.39, 0.29),
    (6.48, 0.27), (6.16, 0.33), (6.34, 0.18), (6.07, 0.24), (6.43, 0.12), (6.09, 0.32), (6.18, 0.26),
    (6.27, 0.24), (6.36, 0.27), (6.45, 0.20), (6.13, 0.30), (6.25, 0.18), (6.37, 0.32), (6.49, 0.16),
    (6.04, 0.23), (6.10, 0.21), (6.15, 0.24), (6.22, 0.26), (6.28, 0.22), (6.33, 0.26), (6.40, 0.23),
    (6.46, 0.25), (6.06, 0.27), (6.31, 0.21), (6.19, 0.19), (6.24, 0.28), (6.42, 0.27), (6.47, 0.19),
    (6.01, 0.24), (6.14, 0.29), (6.27, 0.15), (6.40, 0.18), (6.11, 0.19), (6.35, 0.23), (6.03, 0.16),
    (6.16, 0.20), (6.29, 0.26), (6.43, 0.22), (6.08, 0.31), (6.21, 0.30), (6.34, 0.29), (6.47, 0.31),
    (6.25, 0.35), (6.38, 0.20), (6.05, 0.25),
    (6.51, 0.26), (6.52, 0.33), (6.53, 0.21), (6.54, 0.40), (6.55, 0.28), (6.56, 0.17), (6.57, 0.36),
    (6.58, 0.25), (6.59, 0.46), (6.60, 0.27), (6.61, 0.22), (6.62, 0.31), (6.63, 0.13), (6.64, 0.38),
    (6.65, 0.26), (6.66, 0.51), (6.67, 0.29), (6.68, 0.20), (6.69, 0.34), (6.70, 0.24), (6.71, 0.43),
    (6.72, 0.28), (6.73, 0.15), (6.74, 0.32), (6.75, 0.22), (6.76, 0.48), (6.77, 0.27), (6.78, 0.18),
    (6.79, 0.37), (6.80, 0.23), (6.81, 0.30), (6.82, 0.12), (6.83, 0.44), (6.84, 0.22), (6.85, 0.29),
    (6.86, 0.54), (6.87, 0.21), (6.88, 0.33), (6.89, 0.14), (6.90, 0.25), (6.91, 0.39), (6.92, 0.19),
    (6.93, 0.30), (6.94, 0.24), (6.95, 0.35), (6.96, 0.16), (6.97, 0.27), (6.98, 0.45), (6.99, 0.22),
    (6.52, 0.19), (6.55, 0.41), (6.58, 0.16), (6.61, 0.35), (6.64, 0.21), (6.67, 0.26), (6.70, 0.12),
    (6.73, 0.39), (6.76, 0.24), (6.79, 0.30), (6.82, 0.18), (6.85, 0.36), (6.88, 0.23), (6.91, 0.13),
    (6.94, 0.31), (6.97, 0.20), (6.53, 0.28), (6.62, 0.24), (6.71, 0.21), (6.80, 0.20), (6.89, 0.28),
    (6.98, 0.26), (6.66, 0.32), (6.84, 0.17), (6.57, 0.23), (6.93, 0.11), (6.59, 0.31), (6.68, 0.25),
    (6.77, 0.23), (6.86, 0.26), (6.95, 0.19), (6.63, 0.29), (6.75, 0.17), (6.87, 0.31), (6.99, 0.15),
    (6.54, 0.22), (6.60, 0.20), (6.65, 0.23), (6.72, 0.25), (6.78, 0.21), (6.83, 0.25), (6.90, 0.22),
    (6.96, 0.24), (6.56, 0.26), (6.81, 0.20), (6.69, 0.18), (6.74, 0.27), (6.92, 0.26), (6.97, 0.18),
    (6.51, 0.23), (6.64, 0.28), (6.77, 0.14), (6.90, 0.17), (6.61, 0.18), (6.85, 0.22),
    (7.01, 0.25), (7.02, 0.32), (7.03, 0.20), (7.04, 0.39), (7.05, 0.27), (7.06, 0.16), (7.07, 0.35),
    (7.08, 0.24), (7.09, 0.45), (7.10, 0.26), (7.11, 0.21), (7.12, 0.30), (7.13, 0.12), (7.14, 0.37),
    (7.15, 0.25), (7.16, 0.49), (7.17, 0.28), (7.18, 0.19), (7.19, 0.33), (7.20, 0.23), (7.21, 0.42),
    (7.22, 0.27), (7.23, 0.14), (7.24, 0.31), (7.25, 0.21), (7.26, 0.47), (7.27, 0.26), (7.28, 0.17),
    (7.29, 0.36), (7.30, 0.22), (7.31, 0.29), (7.32, 0.11), (7.33, 0.43), (7.34, 0.21), (7.35, 0.28),
    (7.36, 0.52), (7.37, 0.20), (7.38, 0.32), (7.39, 0.13), (7.40, 0.24), (7.41, 0.38), (7.42, 0.18),
    (7.43, 0.29), (7.44, 0.23), (7.45, 0.34), (7.46, 0.15), (7.47, 0.26), (7.48, 0.44), (7.49, 0.21),
    (7.02, 0.18), (7.05, 0.40), (7.08, 0.15), (7.11, 0.34), (7.14, 0.20), (7.17, 0.25), (7.20, 0.11),
    (7.23, 0.38), (7.26, 0.23), (7.29, 0.29), (7.32, 0.17), (7.35, 0.35), (7.38, 0.22), (7.41, 0.12),
    (7.44, 0.30), (7.47, 0.19), (7.03, 0.27), (7.12, 0.23), (7.21, 0.20), (7.30, 0.19), (7.39, 0.27),
    (7.48, 0.25), (7.16, 0.31), (7.34, 0.16), (7.07, 0.22), (7.43, 0.10), (7.09, 0.30), (7.18, 0.24),
    (7.27, 0.22), (7.36, 0.25), (7.45, 0.18), (7.13, 0.28), (7.25, 0.16), (7.37, 0.30), (7.49, 0.14),
    (7.51, 0.24), (7.52, 0.31), (7.53, 0.19), (7.54, 0.38), (7.55, 0.26), (7.56, 0.15), (7.57, 0.34),
    (7.58, 0.23), (7.59, 0.44), (7.60, 0.25), (7.61, 0.20), (7.62, 0.29), (7.63, 0.11), (7.64, 0.36),
    (7.65, 0.24), (7.66, 0.47), (7.67, 0.27), (7.68, 0.18), (7.69, 0.32), (7.70, 0.22), (7.71, 0.41),
    (7.72, 0.26), (7.73, 0.13), (7.74, 0.30), (7.75, 0.20), (7.76, 0.45), (7.77, 0.25), (7.78, 0.16),
    (7.79, 0.35), (7.80, 0.21), (7.81, 0.28), (7.82, 0.10), (7.83, 0.42), (7.84, 0.20), (7.85, 0.27),
    (7.86, 0.50), (7.87, 0.19), (7.88, 0.31), (7.89, 0.12), (7.90, 0.23), (7.91, 0.37), (7.92, 0.17),
    (7.93, 0.28), (7.94, 0.22), (7.95, 0.33), (7.96, 0.14), (7.97, 0.25), (7.98, 0.43), (7.99, 0.20),
    (7.52, 0.17), (7.56, 0.39), (7.60, 0.14), (7.64, 0.33), (7.68, 0.19), (7.72, 0.24), (7.76, 0.12),
    (7.80, 0.37), (7.84, 0.22), (7.88, 0.28), (7.92, 0.16), (7.96, 0.34), (7.54, 0.21), (7.70, 0.26),
    (7.86, 0.18), (7.58, 0.29),
    (8.02, 0.23), (8.04, 0.30), (8.05, 0.18), (8.07, 0.37), (8.09, 0.25), (8.10, 0.14), (8.12, 0.33),
    (8.14, 0.22), (8.15, 0.42), (8.17, 0.24), (8.19, 0.19), (8.20, 0.28), (8.22, 0.11), (8.24, 0.35),
    (8.25, 0.23), (8.27, 0.45), (8.29, 0.26), (8.30, 0.17), (8.32, 0.31), (8.34, 0.21), (8.35, 0.40),
    (8.37, 0.25), (8.39, 0.13), (8.40, 0.29), (8.42, 0.19), (8.44, 0.43), (8.45, 0.24), (8.47, 0.15),
    (8.49, 0.34), (8.50, 0.20), (8.52, 0.27), (8.54, 0.10), (8.55, 0.41), (8.57, 0.19), (8.59, 0.26),
    (8.60, 0.48), (8.62, 0.18), (8.64, 0.30), (8.65, 0.12), (8.67, 0.22), (8.69, 0.36), (8.70, 0.16),
    (8.72, 0.27), (8.74, 0.21), (8.75, 0.32), (8.77, 0.13), (8.79, 0.24), (8.03, 0.27), (8.13, 0.16),
    (8.23, 0.31), (8.33, 0.24), (8.43, 0.20), (8.53, 0.33), (8.63, 0.22), (8.73, 0.38)]

# outlier gene
outlier_x = [13.93]
outlier_y = [0.0]

# fitted trend
trend_x = [-2.17, -1.1, 0, 1, 2, 3, 4, 5, 6, 7, 8, 9, 10, 12, 13.94]
trend_y = [0.743, 0.668, 0.583, 0.510, 0.440, 0.381, 0.332, 0.290, 0.266, 0.253, 0.248, 0.246, 0.245,
           0.243, 0.242]

x_ticks = [0, 5, 10]
y_ticks = [0, 0.5, 1.0, 1.5]
y_tick_labels = ["0.0", "0.5", "1.0", "1.5"]

normal = (upper_left + upper_mid + left_edge + right_tail + body_low + body_low_fill + body_mid
          + body_core + core_fill + core_upper + body_high)
normal_x = [p[0] for p in normal]
normal_y = [p[1] for p in normal]

FONT = "Liberation Sans, Arial, sans-serif"
FS = 25

fig = go.Figure()
fig.add_trace(go.Scattergl(x=normal_x, y=normal_y, mode="markers",
                           marker=dict(color="black", size=4), name="Normal", showlegend=False))
fig.add_trace(go.Scatter(x=outlier_x, y=outlier_y, mode="markers",
                         marker=dict(color="red", size=3.5), name="Outlier", showlegend=False))
fig.add_trace(go.Scatter(x=trend_x, y=trend_y, mode="lines", line=dict(color="blue", width=1.3, shape="spline"),
                         showlegend=False))

axis_common = dict(showgrid=False, zeroline=False, showline=True, mirror=True, linecolor="black",
                   linewidth=1, ticks="outside", ticklen=15, tickcolor="black", tickwidth=1,
                   tickfont=dict(size=FS, color="black", family=FONT))

fig.update_xaxes(range=[-2.81, 14.58], tickvals=x_ticks, ticklabelstandoff=9, **axis_common)
fig.update_yaxes(range=[-0.0626, 1.627], tickvals=y_ticks, ticktext=y_tick_labels, tickangle=-90,
                 ticklabelstandoff=12, **axis_common)

# legend box drawn by hand, like R's legend()
shapes = [dict(type="rect", xref="paper", yref="paper", x0=0.865, x1=1.0, y0=0.857, y1=1.0,
               line=dict(color="black", width=1), fillcolor="white", layer="above")]
for yy, col in [(0.9518, "black"), (0.9037, "red")]:
    shapes.append(dict(type="circle", xref="paper", yref="paper", x0=0.8866 - 0.0042, x1=0.8866 + 0.0042,
                       y0=yy - 0.0068, y1=yy + 0.0068, fillcolor=col, line=dict(color=col, width=0),
                       layer="above"))

annotations = [
    dict(text="Normal", x=0.9093, y=0.9518, xref="paper", yref="paper", xanchor="left", yanchor="middle",
         showarrow=False, font=dict(size=FS, color="black", family=FONT)),
    dict(text="Outlier", x=0.9093, y=0.9037, xref="paper", yref="paper", xanchor="left", yanchor="middle",
         showarrow=False, font=dict(size=FS, color="black", family=FONT)),
    dict(text="Average log-expression", x=0.5, y=-0.1717, xref="paper", yref="paper", xanchor="center",
         yanchor="middle", showarrow=False, font=dict(size=FS, color="black", family=FONT)),
    dict(text="sqrt(sigma)", x=-0.0996, y=0.5, xref="paper", yref="paper", xanchor="center",
         yanchor="middle", textangle=-90, showarrow=False, font=dict(size=FS, color="black", family=FONT)),
]

# the page puts the figure 8px in from the top-left corner, so the margins allow for that
fig.update_layout(width=1200, height=900, margin=dict(l=115, r=71, t=115, b=162),
                  plot_bgcolor="white", paper_bgcolor="white", shapes=shapes, annotations=annotations,
                  font=dict(family=FONT, color="black"))

fig.write_html("out.html")
